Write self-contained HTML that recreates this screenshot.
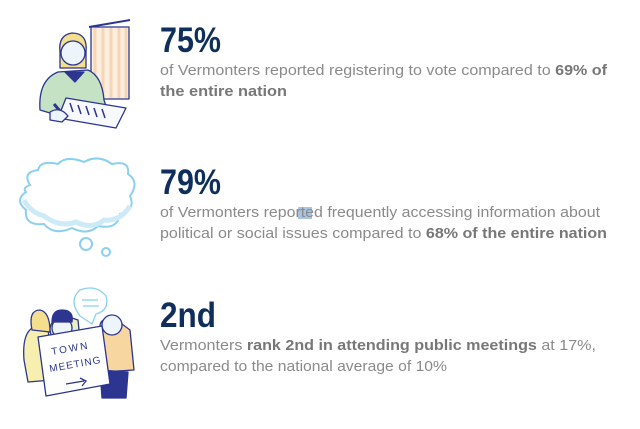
<!DOCTYPE html>
<html><head><meta charset="utf-8"><style>
html,body{margin:0;padding:0;background:#fff;width:640px;height:429px;overflow:hidden}
svg{display:block}
.h{font-family:"Liberation Sans",sans-serif;font-weight:bold;fill:#0e2f5c;font-size:35px}
.t{font-family:"Liberation Sans",sans-serif;fill:#8a8a8a;font-size:15px}
.b{font-weight:bold;fill:#777}
</style></head><body>
<svg width="640" height="429" viewBox="0 0 640 429">
<!-- illustration 1 -->
<g stroke="#2c3590" stroke-width="1.3" stroke-linejoin="round">
<rect x="91" y="27" width="38" height="72" fill="#fbeede"/>
<path d="M95 28V98M103 28V98M111 28V98M119 28V98M126 28V98" stroke="#f4d5b5" stroke-width="3"/>
<path d="M89 27L130 20" stroke-width="2"/>
<path d="M60 52Q58 35 72 33Q88 33 86 52L86 68L60 68Z" fill="#f3df8e"/>
<circle cx="73" cy="53" r="12" fill="#eef4fb"/>
<path d="M40 110Q38 80 58 72L88 70Q102 76 104 100L108 112Q90 118 60 116Z" fill="#c5e2c5"/>
<path d="M65 72L75 82L84 72Z" fill="#2c3590"/>
<path d="M66 98L126 108L116 128L58 118Z" fill="#f7f9fd"/>
<path d="M70 103L73 112M78 105L81 114M86 106L89 115M94 108L97 117M102 109L105 118" stroke-width="1.5"/>
<path d="M54 104L66 118" stroke-width="3"/>
<path d="M50 112Q60 106 68 116L62 122L50 120Z" fill="#eef4fb"/>
</g>
<!-- cloud -->
<g fill="#fff" stroke="#8cd0f0" stroke-width="2">
<path d="M30 185Q22 172 38 170Q40 160 58 164Q66 155 84 162Q98 154 112 164Q130 160 128 174Q140 182 130 196Q136 210 120 214Q118 230 98 226Q88 236 72 228Q54 236 44 224Q24 226 26 210Q14 200 26 192Q22 188 30 185Z" fill="#fff"/>
<circle cx="86" cy="244" r="6"/>
<circle cx="106" cy="252" r="4"/>
</g>
<path d="M24 200Q30 212 44 216Q60 228 76 222Q92 230 104 220Q120 222 130 206" stroke="#cdeaf8" stroke-width="5" fill="none"/>
<!-- illustration 3 -->
<g stroke="#2c3590" stroke-width="1.3" stroke-linejoin="round">
<path d="M80 316Q68 300 80 290Q96 284 106 296Q110 310 96 314L92 324Z" fill="#fff" stroke="#8cd0f0"/>
<path d="M82 300h16M83 306h16" stroke="#8cd0f0"/>
<path d="M24 360Q22 335 32 328L48 326L52 380L28 382Z" fill="#f7efb0"/>
<path d="M32 330Q28 310 40 310Q50 312 50 332Z" fill="#f3df8e"/>
<path d="M50 330Q50 318 66 316L78 320L80 340L52 340Z" fill="#eaf0c0"/>
<circle cx="62" cy="328" r="10" fill="#eef4fb"/>
<path d="M52 322Q52 310 62 310Q74 310 72 322Z" fill="#2c3590"/>
<path d="M100 326Q100 318 114 318L130 330L134 370L100 372Z" fill="#f8d6a0"/>
<circle cx="112" cy="325" r="10" fill="#eef4fb"/>
<path d="M100 370L128 372L126 398L102 398Z" fill="#2c3590"/>
<path d="M38 337L102 326L110 384L46 396Z" fill="#fff"/>
</g>
<g font-family="Liberation Sans,sans-serif" font-size="10" fill="#2c3590">
<text x="52" y="355" transform="rotate(-10 52 355)" letter-spacing="2">TOWN</text>
<text x="50" y="372" transform="rotate(-10 50 372)" letter-spacing="1">MEETING</text>
</g>
<path d="M66 384L84 381M80 378L86 381L82 386" stroke="#2c3590" fill="none" stroke-width="1.3"/>
<!-- text -->
<text class="h" x="160" y="52" textLength="61" lengthAdjust="spacingAndGlyphs">75%</text>
<text class="t" x="160" y="75" textLength="447" lengthAdjust="spacingAndGlyphs">of Vermonters reported registering to vote compared to <tspan class="b">69% of</tspan></text>
<text class="t b" x="160" y="96" textLength="127" lengthAdjust="spacingAndGlyphs">the entire nation</text>
<text class="h" x="160" y="194" textLength="61" lengthAdjust="spacingAndGlyphs">79%</text>
<rect x="298" y="207" width="14" height="12" fill="#a8c4e0"/>
<text class="t" x="160" y="217" textLength="440" lengthAdjust="spacingAndGlyphs">of Vermonters reported frequently accessing information about</text>
<text class="t" x="160" y="238" textLength="447" lengthAdjust="spacingAndGlyphs">political or social issues compared to <tspan class="b">68% of the entire nation</tspan></text>
<text class="h" x="160" y="327" textLength="56" lengthAdjust="spacingAndGlyphs">2nd</text>
<text class="t" x="160" y="350" textLength="436" lengthAdjust="spacingAndGlyphs">Vermonters <tspan class="b">rank 2nd in attending public meetings</tspan> at 17%,</text>
<text class="t" x="160" y="371" textLength="287" lengthAdjust="spacingAndGlyphs">compared to the national average of 10%</text>
</svg>
</body></html>
